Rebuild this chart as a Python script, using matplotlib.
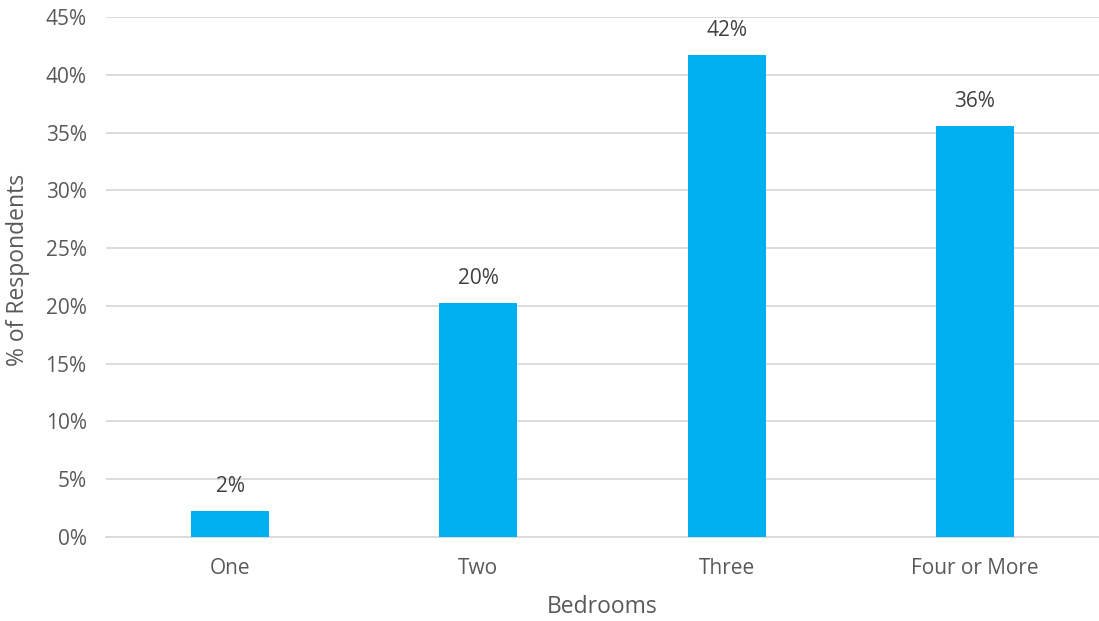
import matplotlib
matplotlib.use("Agg")
import matplotlib.pyplot as plt
from matplotlib.ticker import FuncFormatter, MultipleLocator

# data
bedrooms = ["One", "Two", "Three", "Four or More"]
share = [2.25, 20.25, 41.7, 35.6]
labels = ["2%", "20%", "42%", "36%"]

plt.rcParams["font.family"] = ["Open Sans", "DejaVu Sans"]
grey = "#595959"

fig = plt.figure(figsize=(10.99, 6.21), dpi=100)
ax = fig.add_axes([0.0965, 0.1353, 0.9035, 0.8373])

x = range(len(bedrooms))
bars = ax.bar(x, share, width=0.314, color="#00B0F0", zorder=3)

for b, lab in zip(bars, labels):
    ax.text(b.get_x() + b.get_width() / 2, b.get_height() + 1.2, lab,
            ha="center", va="bottom", fontsize=15, color="#404040")

ax.set_xlim(-0.5, len(bedrooms) - 0.5)
ax.set_ylim(0, 45)
ax.yaxis.set_major_locator(MultipleLocator(5))
ax.yaxis.set_major_formatter(FuncFormatter(lambda v, p: f"{v:.0f}%"))
ax.set_xticks(list(x))
ax.set_xticklabels(bedrooms)

ax.grid(axis="y", color="#D9D9D9", linewidth=1.3, zorder=0)
for s in ["top", "right", "left"]:
    ax.spines[s].set_visible(False)
ax.spines["bottom"].set_color("#D9D9D9")
ax.spines["bottom"].set_linewidth(1.3)
ax.tick_params(axis="both", length=0, labelsize=15, labelcolor=grey)
ax.tick_params(axis="x", pad=15)
ax.tick_params(axis="y", pad=14)

ax.set_xlabel("Bedrooms", fontsize=16.5, color=grey, va="center")
ax.xaxis.set_label_coords(0.5, -0.1346)
ax.set_ylabel("% of Respondents", fontsize=16.5, color=grey, va="center")
ax.yaxis.set_label_coords(-0.0886, 0.513)

fig.savefig("out.png", dpi=100)
